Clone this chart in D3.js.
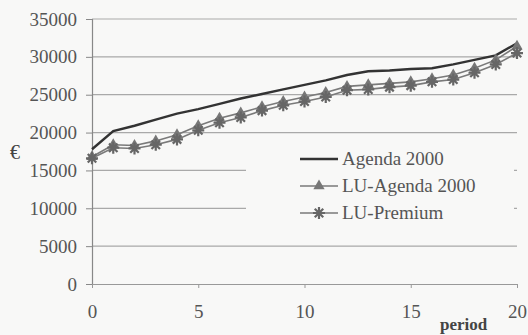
<!DOCTYPE html>
<html>
<head>
<meta charset="utf-8">
<script src="https://cdn.jsdelivr.net/npm/d3@7"></script>
<style>
  body { margin: 0; background: #f8f8f7; }
  svg { display: block; font-family: "Liberation Serif", "DejaVu Serif", serif; }
</style>
</head>
<body>
<svg class="chart"></svg>
<script>
var width = 528,
    height = 335;

var periods = d3.range(0, 21);
var agenda = [17800, 20200, 20900, 21700, 22500, 23100, 23800, 24500, 25100, 25700, 26300,
              26900, 27600, 28100, 28200, 28400, 28500, 29000, 29600, 30200, 31800];
var luAgenda = [16800, 18400, 18300, 18900, 19700, 20900, 21900, 22600, 23400, 24100, 24700,
                25300, 26100, 26300, 26500, 26700, 27100, 27600, 28500, 29600, 31400];
var luPremium = [16600, 18000, 17900, 18400, 19100, 20300, 21300, 22000, 22900, 23600, 24100,
                 24700, 25600, 25700, 26000, 26200, 26700, 27000, 27900, 29000, 30500];
var yTicks = [0, 5000, 10000, 15000, 20000, 25000, 30000, 35000];
var xTicks = [0, 5, 10, 15, 20];
var seriesNames = ["Agenda 2000", "LU-Agenda 2000", "LU-Premium"];

var svg = d3.select(".chart")
    .attr("width", width)
    .attr("height", height);

var x = d3.scaleLinear().domain([0, 20]).range([92, 517]);
var y = d3.scaleLinear().domain([0, 35000]).range([284, 19]);

// gridlines
svg.append("g")
  .selectAll("line")
  .data(yTicks.filter(d => d > 0))
  .enter().append("line")
    .attr("x1", x(0)).attr("x2", x(20))
    .attr("y1", d => y(d)).attr("y2", d => y(d))
    .attr("stroke", "#a9a9a9").attr("stroke-width", 1.2);

// y axis
var yAxis = svg.append("g")
    .attr("transform", "translate(" + x(0) + ",0)")
    .call(d3.axisLeft(y).tickValues(yTicks).tickSize(6).tickPadding(9).tickFormat(d3.format("d")));
yAxis.select(".domain").attr("stroke", "#888").attr("stroke-width", 1.2);
yAxis.selectAll(".tick line").attr("stroke", "#888");
yAxis.selectAll("text").attr("fill", "#555").style("font-size", "19px")
    .style("font-family", "Liberation Serif, serif");

// x axis
var xAxis = svg.append("g")
    .attr("transform", "translate(0," + y(0) + ")")
    .call(d3.axisBottom(x).tickValues(xTicks).tickSize(4).tickPadding(17).tickSizeOuter(0));
xAxis.select(".domain").attr("stroke", "#999").attr("stroke-width", 1.2);
xAxis.selectAll(".tick line").attr("stroke", "#999");
xAxis.selectAll("text").attr("fill", "#555").style("font-size", "19px")
    .style("font-family", "Liberation Serif, serif");

var line = d3.line()
    .x((d, i) => x(periods[i]))
    .y(d => y(d));

svg.append("path").datum(luPremium)
    .attr("fill", "none").attr("stroke", "#7a7a7a").attr("stroke-width", 1.6)
    .attr("d", line);
svg.append("path").datum(luAgenda)
    .attr("fill", "none").attr("stroke", "#7a7a7a").attr("stroke-width", 1.6)
    .attr("d", line);
svg.append("path").datum(agenda)
    .attr("fill", "none").attr("stroke", "#333").attr("stroke-width", 2.4)
    .attr("d", line);

var tri = d3.symbol().type(d3.symbolTriangle).size(55);

svg.append("g").selectAll("path")
  .data(luAgenda)
  .enter().append("path")
    .attr("d", tri)
    .attr("transform", (d, i) => "translate(" + x(periods[i]) + "," + y(d) + ")")
    .attr("fill", "#777");

function asterisk(s) {
  var p = "";
  for (var k = 0; k < 4; k++) {
    var a = k * Math.PI / 4;
    p += "M" + (-s * Math.cos(a)) + "," + (-s * Math.sin(a)) + "L" + (s * Math.cos(a)) + "," + (s * Math.sin(a));
  }
  return p;
}

svg.append("g").selectAll("path")
  .data(luPremium)
  .enter().append("path")
    .attr("d", asterisk(6))
    .attr("transform", (d, i) => "translate(" + x(periods[i]) + "," + y(d) + ")")
    .attr("stroke", "#666").attr("stroke-width", 2.2).attr("fill", "none");

// legend
var legend = svg.append("g");
legend.append("rect")
    .attr("x", 246).attr("y", 142).attr("width", 268).attr("height", 86)
    .attr("fill", "#f8f8f7");

var items = legend.selectAll(".item")
    .data(seriesNames)
  .enter().append("g")
    .attr("class", "item")
    .attr("transform", (d, i) => "translate(300," + (159 + i * 27) + ")");

items.append("line")
    .attr("x1", 0).attr("x2", 38)
    .attr("stroke", (d, i) => i == 0 ? "#333" : "#7a7a7a")
    .attr("stroke-width", (d, i) => i == 0 ? 2.4 : 1.6);

items.filter((d, i) => i == 1).append("path")
    .attr("d", tri).attr("transform", "translate(19,0)").attr("fill", "#777");
items.filter((d, i) => i == 2).append("path")
    .attr("d", asterisk(6)).attr("transform", "translate(19,0)")
    .attr("stroke", "#666").attr("stroke-width", 2.2);

items.append("text")
    .attr("x", 42).attr("y", 6)
    .attr("fill", "#555")
    .style("font-size", "19px")
    .text(d => d);

svg.append("text")
    .attr("x", 10).attr("y", 159)
    .attr("fill", "#444")
    .style("font-size", "20px")
    .text("€");

svg.append("text")
    .attr("x", 440).attr("y", 330)
    .attr("fill", "#444")
    .style("font-size", "17px").style("font-weight", "bold")
    .text("period");
</script>
</body>
</html>
